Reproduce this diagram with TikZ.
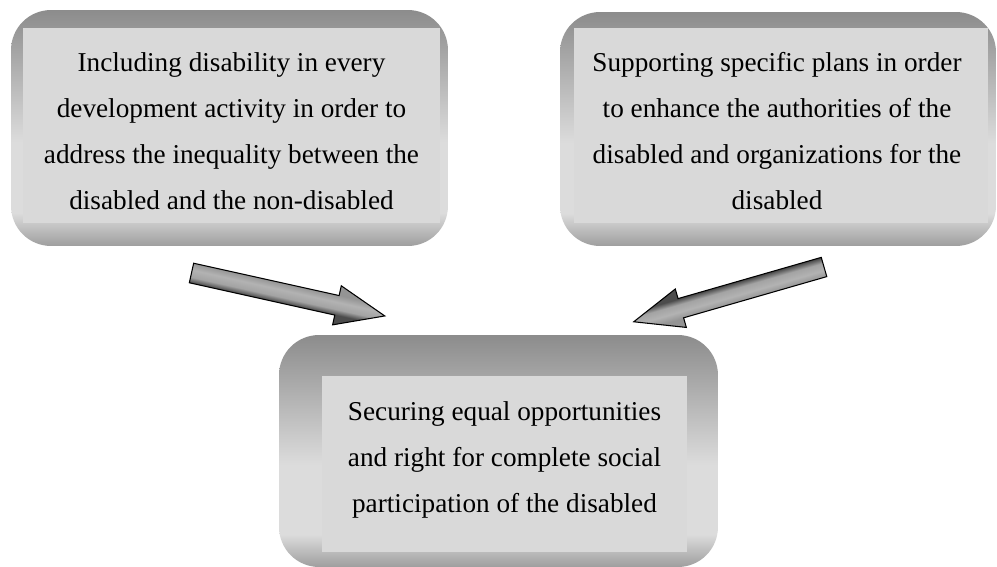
\documentclass[tikz,border=0pt]{standalone}
\usepackage{fontspec}
\setmainfont{Liberation Serif}
\usetikzlibrary{positioning}
\definecolor{frametop}{HTML}{8C8C8C}
\definecolor{framelight}{HTML}{DCDCDC}
\definecolor{framebot}{HTML}{9E9E9E}
\definecolor{innergray}{HTML}{D9D9D9}
\pgfdeclareverticalshading{framegray}{100bp}{color(0bp)=(framebot); color(25bp)=(framebot);
  color(32bp)=(framelight); color(47bp)=(framelight); color(75bp)=(frametop); color(100bp)=(frametop)}
\pgfdeclareverticalshading{arrowgray}{100bp}{color(0bp)=(black!70); color(38bp)=(black!70);
  color(45bp)=(black!36); color(54bp)=(black!30); color(63bp)=(black!42); color(100bp)=(black!42)}

\begin{document}
\begin{tikzpicture}[x=0.02cm,y=-0.02cm,font={\fontsize{15.5pt}{26.2pt}\selectfont},
  panel/.style={shade,shading=framegray,rounded corners=0.8cm,inner sep=0pt},
  panelin/.style={fill=innergray,inner sep=0pt},
  paneltext/.style={inner sep=0pt,align=center},
  blockarrow/.style={shade,shading=arrowgray,draw=black,line width=0.6pt}]
  \useasboundingbox (0,0) rectangle (997,567);
  % top left
  \node[panel,minimum width=8.74cm,minimum height=4.72cm] (incpanel) at (229.5,128) {};
  \node[panelin,minimum width=8.34cm,minimum height=3.9cm] (incbox) at (231.5,125.5) {};
  \node[paneltext] (inctext) at (231.5,131)
    {Including disability in every\\development activity in order to\\address the inequality between the\\disabled and the non-disabled};
  % top right
  \node[panel,minimum width=8.72cm,minimum height=4.68cm] (suppanel) at (778,129) {};
  \node[panelin,minimum width=8.28cm,minimum height=3.9cm] (supbox) at (781,125.5) {};
  \node[paneltext] (suptext) at (777,131)
    {Supporting specific plans in order\\to enhance the authorities of the\\disabled and organizations for the\\disabled};
  % bottom
  \node[panel,minimum width=8.78cm,minimum height=4.64cm] (secpanel) at (498.5,451) {};
  \node[panelin,minimum width=7.3cm,minimum height=3.52cm] (secbox) at (504.5,464) {};
  \node[paneltext] (sectext) at (504.5,460)
    {Securing equal opportunities\\and right for complete social\\participation of the disabled};
  % block arrows
  \coordinate (ltail) at (191.5,273);
  \coordinate (rtail) at (824,267);
  \begin{scope}[transform canvas={shift={(ltail)},rotate=-12.53}]
    \path[blockarrow] (0,-10) -- (149,-10) -- (149,-20) -- (198,0) -- (149,20) -- (149,10) -- (0,10) -- cycle;
  \end{scope}
  \begin{scope}[transform canvas={shift={(rtail)},rotate=196.06}]
    \path[blockarrow] (0,-10) -- (149,-10) -- (149,-20) -- (198,0) -- (149,20) -- (149,10) -- (0,10) -- cycle;
  \end{scope}
\end{tikzpicture}
\end{document}
